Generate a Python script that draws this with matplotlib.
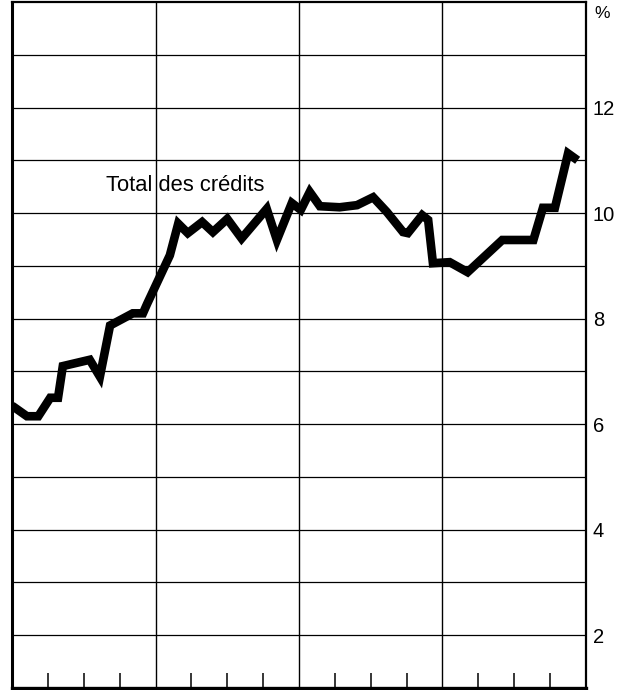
import matplotlib
matplotlib.use("Agg")
import matplotlib.pyplot as plt
import numpy as np

plt.rcParams['font.family'] = ['Liberation Sans', 'DejaVu Sans']

# months since start of the period (4 years, monthly positions)
months = [0.0, 1.25, 2.2, 3.2, 3.85, 4.25, 6.5, 7.35, 8.2, 10.1, 10.95, 11.3,
          13.2, 13.9, 14.7, 15.9, 16.8, 18.0, 19.2, 21.3, 22.15, 23.4, 24.15,
          24.9, 25.75, 27.4, 28.85, 30.2, 31.35, 32.7, 33.1, 34.3, 34.8, 35.2,
          36.6, 38.1, 41.0, 43.6, 44.4, 45.4, 46.5, 47.3]
# taux (%)
total_credits = [6.35, 6.15, 6.15, 6.5, 6.5, 7.1, 7.22, 6.9, 7.87, 8.1, 8.1, 8.28,
                 9.2, 9.8, 9.62, 9.83, 9.64, 9.89, 9.52, 10.08, 9.49, 10.19, 10.06,
                 10.4, 10.13, 10.11, 10.15, 10.3, 10.02, 9.64, 9.62, 9.96, 9.87, 9.05,
                 9.07, 8.88, 9.49, 9.49, 10.1, 10.1, 11.13, 11.0]

year_lines = [12, 24, 36]
quarter_ticks = [3, 6, 9, 15, 18, 21, 27, 30, 33, 39, 42, 45]
y_labels = [2, 4, 6, 8, 10, 12]
series_label = "Total des crédits"

fig = plt.figure(figsize=(6.29, 6.90), dpi=100)
ax = fig.add_axes([12 / 629, 2 / 690, 574 / 629, 686 / 690])

ax.plot(months, total_credits, color='black', lw=6.2, solid_joinstyle='miter',
        solid_capstyle='butt', zorder=3)

ax.set_xlim(0, 48)
ax.set_ylim(1, 14)

for y in range(2, 14):
    ax.axhline(y, color='black', lw=0.9, zorder=1)
for x in year_lines:
    ax.axvline(x, color='black', lw=1.0, zorder=1)

ax.set_xticks(quarter_ticks)
ax.set_xticklabels([])
ax.tick_params(axis='x', direction='in', length=11, width=1.1, color='black')

ax.yaxis.tick_right()
ax.set_yticks(y_labels)
ax.set_yticklabels([str(v) for v in y_labels])
ax.tick_params(axis='y', length=0, pad=5, labelsize=14.5)

ax.text(1.015, 13.78, '%', transform=ax.get_yaxis_transform(), fontsize=12.5,
        va='center', ha='left')
ax.text(7.9, 10.52, series_label, fontsize=15.8, va='center', ha='left', zorder=4)

ax.spines['left'].set_linewidth(2.2)
ax.spines['bottom'].set_linewidth(2.4)
ax.spines['top'].set_linewidth(1.6)
ax.spines['right'].set_linewidth(1.6)

fig.savefig('out.png', dpi=100)
